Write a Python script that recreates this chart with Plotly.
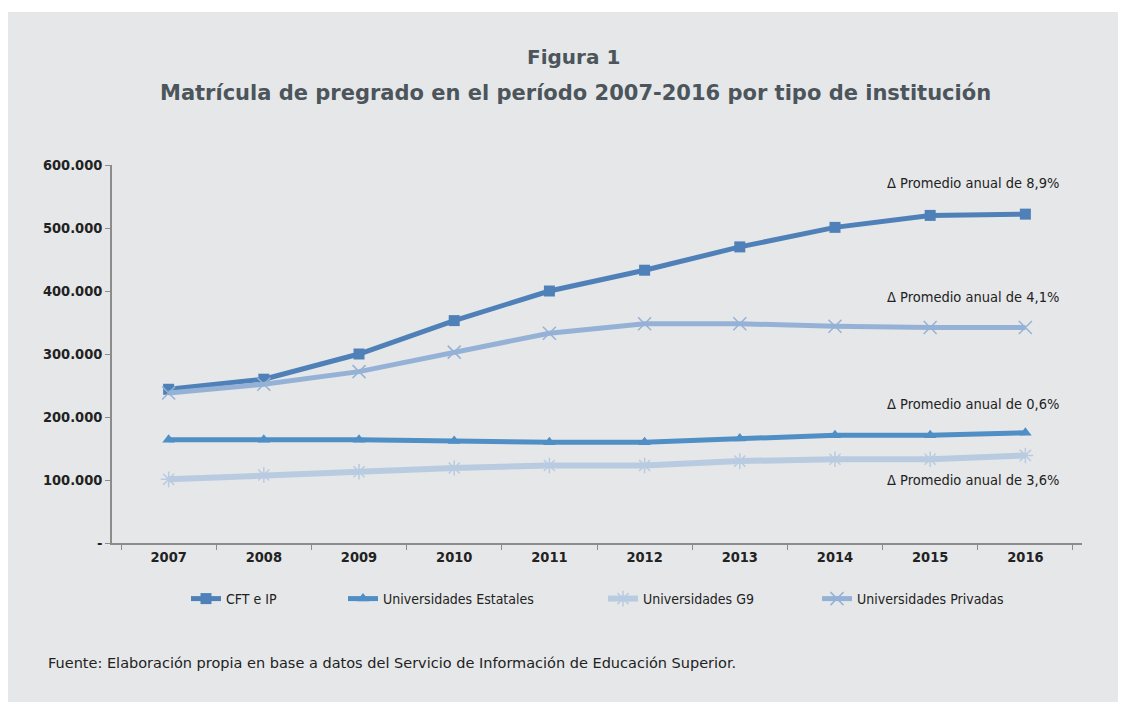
import plotly.graph_objects as go

years = ["2007", "2008", "2009", "2010", "2011", "2012", "2013", "2014", "2015", "2016"]
cft_ip = [244000, 260000, 300000, 353000, 400000, 433000, 470000, 501000, 520000, 522000]
estatales = [164000, 164000, 164000, 162000, 160000, 160000, 166000, 171000, 171000, 175000]
g9 = [101000, 108000, 113000, 119000, 123000, 123000, 130000, 133000, 133000, 139000]
privadas = [238000, 252000, 272000, 303000, 333000, 348000, 348000, 344000, 342000, 342000]

y_tickvals = [0, 100000, 200000, 300000, 400000, 500000, 600000]
y_ticktext = ["-", "100.000", "200.000", "300.000", "400.000", "500.000", "600.000"]

annot_texts = ["Δ Promedio anual de 8,9%", "Δ Promedio anual de 4,1%",
               "Δ Promedio anual de 0,6%", "Δ Promedio anual de 3,6%"]

title1 = "Figura 1"
title2 = "Matrícula de pregrado en el período 2007-2016 por tipo de institución"
source = "Fuente: Elaboración propia en base a datos del Servicio de Información de Educación Superior."

# page body has an 8px margin; figure sized so it fits the 1126x710 window
OFF = 8
W, H = 1126 - 2 * OFF, 710 - 2 * OFF
L = 112 - OFF
T = 165 - OFF
R = W - (1082 - OFF)
B = H - (543 - OFF)
pw, ph = W - L - R, H - T - B


def px(x):
    return (x - OFF - L) / pw


def py(y):
    return (H - B - (y - OFF)) / ph


COND = "DejaVu Sans Condensed, Liberation Sans Narrow, sans-serif"

fig = go.Figure()
fig.add_trace(go.Scatter(x=years, y=cft_ip, name="CFT e IP", mode="lines+markers",
                         line=dict(color="#4f81b8", width=5), legend="legend",
                         marker=dict(symbol="square", size=11, color="#4f81b8")))
fig.add_trace(go.Scatter(x=years, y=estatales, name="Universidades Estatales", mode="lines+markers",
                         line=dict(color="#4f8fc6", width=5), legend="legend2",
                         marker=dict(symbol="triangle-up", size=11, color="#4f8fc6")))
fig.add_trace(go.Scatter(x=years, y=g9, name="Universidades G9", mode="lines+markers",
                         line=dict(color="#b9cbe0", width=6), legend="legend3",
                         marker=dict(symbol="asterisk-open", size=13,
                                     line=dict(color="#a9c0dc", width=1.5))))
fig.add_trace(go.Scatter(x=years, y=privadas, name="Universidades Privadas", mode="lines+markers",
                         line=dict(color="#95b2d6", width=5), legend="legend4",
                         marker=dict(symbol="x-thin-open", size=13,
                                     line=dict(color="#8aaad2", width=1.5))))

shapes = [
    dict(type="rect", xref="paper", yref="paper", x0=px(8), x1=px(1130), y0=py(712), y1=py(12),
         fillcolor="#e6e7e9", line=dict(width=0), layer="below"),
]

annotations = [
    dict(text="<b>" + title1 + "</b>", xref="paper", yref="paper", x=px(573), y=py(57),
         xanchor="center", yanchor="middle", showarrow=False,
         font=dict(family="DejaVu Sans", size=20, color="#4b555b")),
    dict(text="<b>" + title2 + "</b>", xref="paper", yref="paper", x=px(575), y=py(93),
         xanchor="center", yanchor="middle", showarrow=False,
         font=dict(family="DejaVu Sans", size=21, color="#4b555b")),
    dict(text=source, xref="paper", yref="paper", x=px(46), y=py(663),
         xanchor="left", yanchor="middle", showarrow=False,
         font=dict(family="DejaVu Sans", size=14.5, color="#222222")),
]
for txt, yy in zip(annot_texts, [183, 297, 404, 480]):
    annotations.append(dict(text=txt, xref="paper", yref="paper", x=px(1061), y=py(yy),
                            xanchor="right", yanchor="middle", showarrow=False,
                            font=dict(family=COND, size=14.5, color="#222222")))

leg_font = dict(family=COND, size=14, color="#222222")


def leg(xt):
    return dict(orientation="h", x=px(xt), y=py(599), xanchor="left", yanchor="middle",
                font=leg_font, bgcolor="rgba(0,0,0,0)")


fig.update_layout(
    width=W, height=H,
    margin=dict(l=L, r=R, t=T, b=B),
    paper_bgcolor="white",
    plot_bgcolor="rgba(0,0,0,0)",
    shapes=shapes,
    annotations=annotations,
    showlegend=True,
    legend=leg(186),
    legend2=leg(343),
    legend3=leg(603),
    legend4=leg(817),
    xaxis=dict(type="category", tickson="boundaries", ticks="outside", ticklen=5,
               tickcolor="#8c8c8c", showline=True, linecolor="#8c8c8c", linewidth=1.5,
               showgrid=False, zeroline=False,
               tickfont=dict(family=COND, size=14.5, color="#222222", weight="bold")),
    yaxis=dict(range=[0, 600000], tickvals=y_tickvals, ticktext=y_ticktext,
               ticks="outside", ticklen=5, tickcolor="#8c8c8c", showline=True,
               linecolor="#8c8c8c", linewidth=1.5, showgrid=False, zeroline=False,
               tickfont=dict(family=COND, size=14.5, color="#222222", weight="bold")),
)

fig.write_html("out.html")
